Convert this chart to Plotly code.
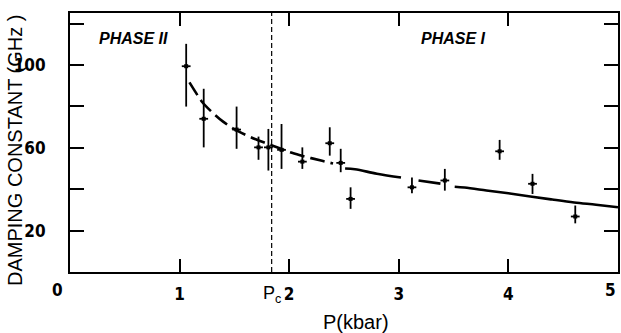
import plotly.graph_objects as go

# ---- data ----
pressure = [1.06, 1.22, 1.52, 1.72, 1.81, 1.93, 2.12, 2.37, 2.47, 2.56, 3.12, 3.42, 3.92, 4.22, 4.61]
damping = [99.4, 74.0, 68.8, 60.2, 60.2, 59.0, 53.3, 62.2, 52.7, 35.3, 40.9, 44.2, 58.3, 42.6, 26.8]
err_top = [110.2, 88.5, 79.9, 65.4, 69.1, 71.5, 60.2, 69.9, 59.5, 40.9, 45.7, 49.8, 63.8, 47.4, 32.1]
err_bot = [79.9, 60.2, 59.5, 54.2, 49.0, 49.8, 49.8, 56.2, 48.2, 30.5, 38.0, 39.3, 54.2, 37.7, 23.5]
p_err = 0.04

# fitted curve (dashed part, phase II side)
fit_p_dash = [1.09, 1.15, 1.2, 1.3, 1.4, 1.5, 1.6, 1.7, 1.8, 1.9, 2.0, 2.1, 2.2, 2.3, 2.4]
fit_g_dash = [91.6, 86.5, 82.5, 77.0, 72.5, 69.0, 66.3, 64.0, 62.0, 60.0, 58.0, 56.4, 55.0, 53.7, 52.4]
# fitted curve (phase I side, broken at data points)
fit_p_solid = [2.51, 2.6, 2.8, 3.02, None, 3.18, 3.38, None, 3.51, 3.6, 3.8, 4.0, 4.2, 4.4, 4.6, 4.8, 5.0]
fit_g_solid = [50.0, 49.6, 47.5, 45.6, None, 44.2, 42.7, None, 41.2, 40.8, 39.4, 38.0, 36.5, 35.0, 33.6, 32.5, 31.3]

p_c = 1.84
x_ticks = [1, 2, 3, 4]
x_labels_extra = ["0", "5"]
y_ticks = [20, 60, 100]
y_minor_step = 20

err_plus = [t - d for t, d in zip(err_top, damping)]
err_minus = [d - b for d, b in zip(damping, err_bot)]

NARROW = "Liberation Sans Narrow, DejaVu Sans Condensed, Arial Narrow, sans-serif"
SANS = "Liberation Sans, Arial, Helvetica, sans-serif"

fig = go.Figure()

# vertical dashed line at Pc
fig.add_trace(go.Scatter(
    x=[p_c, p_c], y=[0, 125.1], mode="lines",
    line=dict(color="black", width=1.2, dash="5px,3px"),
    hoverinfo="skip", showlegend=False))

fig.add_trace(go.Scatter(
    x=fit_p_dash, y=fit_g_dash, mode="lines",
    line=dict(color="black", width=2.6, dash="15px,6px", shape="spline"),
    showlegend=False))
fig.add_trace(go.Scatter(
    x=fit_p_solid, y=fit_g_solid, mode="lines",
    line=dict(color="black", width=2.6, shape="spline"),
    connectgaps=False, showlegend=False))

fig.add_trace(go.Scatter(
    x=pressure, y=damping, mode="markers",
    marker=dict(color="black", size=4, symbol="square"),
    error_y=dict(type="data", symmetric=False, array=err_plus, arrayminus=err_minus,
                 color="black", thickness=1.8, width=0),
    error_x=dict(type="constant", value=p_err, color="black", thickness=1.8, width=0),
    showlegend=False))

tickfont = dict(family=NARROW, size=17, color="black", weight="bold")

fig.update_layout(
    width=621, height=333,
    margin=dict(l=70, r=1, t=13, b=61),
    plot_bgcolor="white", paper_bgcolor="white",
    xaxis=dict(range=[0, 5], tickvals=x_ticks, ticks="inside", ticklen=13, tickwidth=1.5,
               tickcolor="black", showgrid=False, zeroline=False, showline=True,
               linecolor="black", linewidth=2, mirror="ticks",
               tickfont=tickfont, ticklabelstandoff=6),
    yaxis=dict(range=[0, 125.1], tickvals=y_ticks, ticks="inside",
               ticklen=14, tickwidth=1.5, tickcolor="black", showgrid=False, zeroline=False,
               showline=True, linecolor="black", linewidth=2, mirror="ticks",
               minor=dict(tick0=0, dtick=y_minor_step, ticks="inside", ticklen=14,
                          tickwidth=1.5, tickcolor="black", showgrid=False),
               tickfont=tickfont, ticklabelstandoff=19),
)

ann = [
    dict(text=x_labels_extra[0], x=-0.022, y=-0.07, xref="paper", yref="paper",
         font=tickfont),
    dict(text=x_labels_extra[1], x=5, y=-0.07, xref="x", yref="paper",
         font=tickfont, xanchor="right"),
    dict(text="P<sub>c</sub>", x=p_c, y=-0.085, xref="x", yref="paper",
         font=dict(family=SANS, size=18, color="black")),
    dict(text="P(kbar)", x=0.522, y=-0.193, xref="paper", yref="paper",
         font=dict(family=SANS, size=20, color="black")),
    dict(text="DAMPING CONSTANT (GHz )", x=-0.1, y=0.468, xref="paper", yref="paper",
         textangle=-90, font=dict(family=SANS, size=20, color="black")),
    dict(text="<b><i>PHASE II</i></b>", x=97, y=38, xref="x", yref="y",
         font=dict(family=SANS, size=16, color="black")),
    dict(text="<b><i>PHASE I</i></b>", x=420, y=38, xref="x", yref="y",
         font=dict(family=SANS, size=16, color="black")),
]
for a in ann:
    if a["text"].startswith("<b><i>PHASE"):
        px, py = a["x"], a["y"]
        a["x"] = (px - 70) / 550 * 5
        a["y"] = (271.4 - py) / 2.07
        a["xanchor"] = "left"
    else:
        a.setdefault("xanchor", "center")
    a["yanchor"] = "middle"
    a["showarrow"] = False

fig.update_layout(annotations=ann)
fig.write_html("out.html")
